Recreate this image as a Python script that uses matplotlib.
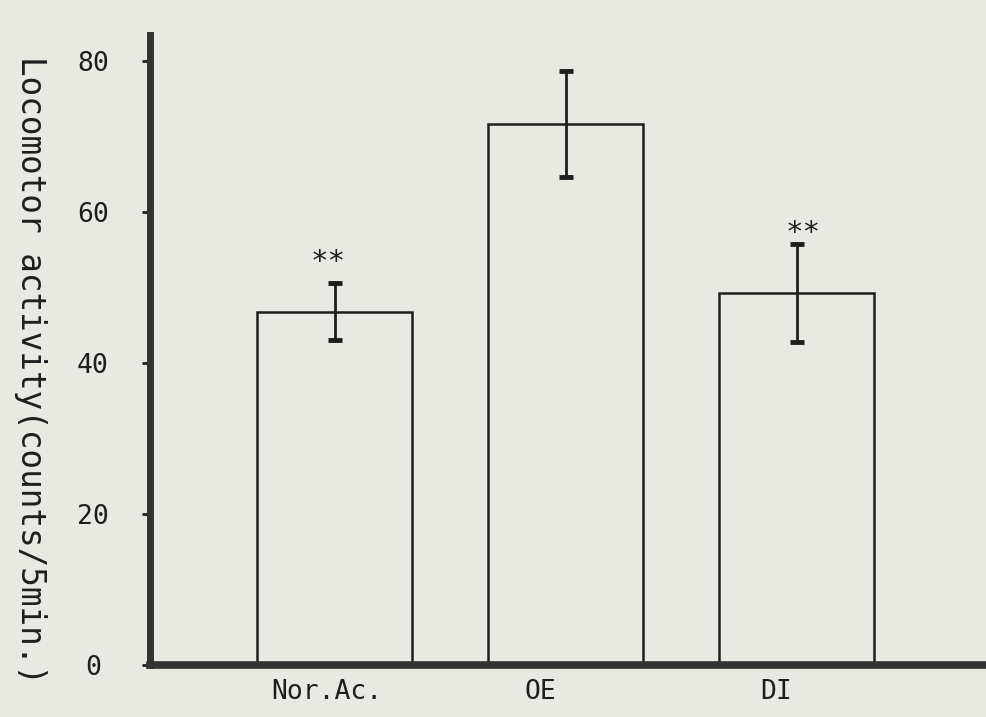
import matplotlib.pyplot as plt

# données
groups = ["Nor.Ac.", "OE", "DI"]
activity = [46.8, 71.7, 49.3]
sem = [3.8, 7.0, 6.5]
signif = ["**", "", "**"]
yticks = [0, 20, 40, 60, 80]

# écart entre la barre d'erreur et les étoiles (unités de l'axe y)
star_gap = [1.0, 0, -0.4]
star_shift = [-0.03, 0, 0.03]
# décalage des étiquettes du bas (tapées à la machine, pas bien centrées)
label_shift = [-0.035, -0.11, -0.087]

bg = "#e8e9e3"
ink = "#1e1e1e"

plt.rcParams['font.family'] = ['DejaVu Sans Mono']

fig = plt.figure(figsize=(9.86, 7.17), dpi=100, facecolor=bg)
ax = fig.add_axes([0.152, 0.0725, 0.848, 0.878], facecolor=bg)

x = list(range(len(groups)))
ax.bar(x, activity, width=0.67, color=bg, edgecolor=ink, linewidth=1.8, zorder=2)
ax.errorbar(x, activity, yerr=sem, fmt='none', ecolor=ink, elinewidth=2,
            capsize=5, capthick=3.5, zorder=3)

# étoiles de significativité
for xi, m, e, s, g, d in zip(x, activity, sem, signif, star_gap, star_shift):
    if s:
        ax.text(xi + d, m + e + g, s, ha='center', va='bottom',
                fontsize=21, color=ink)

ax.set_xlim(-0.80, 2.82)
ax.set_ylim(0, 83.4)
ax.set_yticks(yticks)
ax.set_yticklabels([str(t) for t in yticks], fontsize=19, color=ink, ha='center')
ax.set_xticks([xi + s for xi, s in zip(x, label_shift)])
ax.set_xticklabels(groups, fontsize=19, color=ink)
ax.tick_params(axis='y', direction='out', length=6, width=2, pad=35, colors=ink)
ax.tick_params(axis='x', length=0, pad=10)

for side in ['top', 'right']:
    ax.spines[side].set_visible(False)
ax.spines['left'].set_linewidth(5)
ax.spines['bottom'].set_linewidth(5.5)
ax.spines['left'].set_color("#333333")
ax.spines['bottom'].set_color("#333333")

fig.text(0.031, 0.484, "Locomotor activity(counts/5min.)", rotation=-90,
         ha='center', va='center', fontsize=23.5, color=ink)

plt.savefig("out.png", dpi=100, facecolor=bg)
